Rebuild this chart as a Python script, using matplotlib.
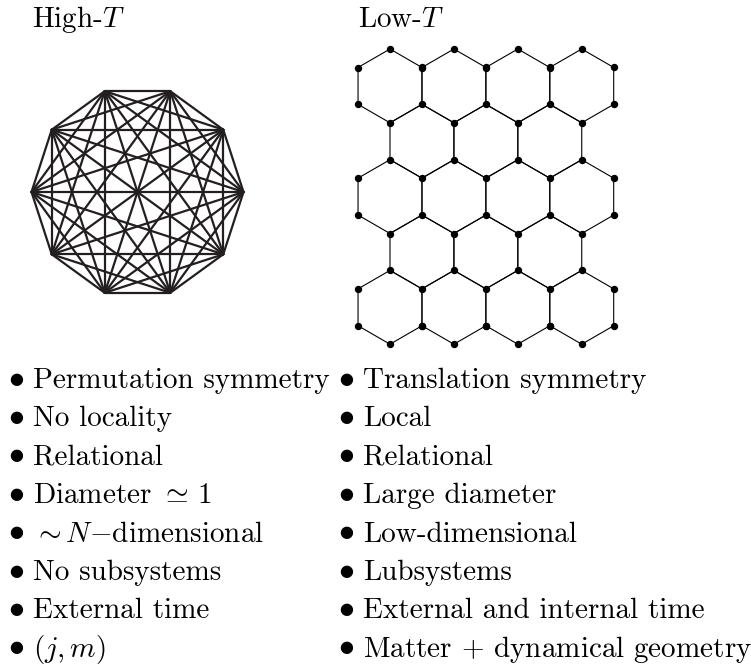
import numpy as np
import matplotlib
matplotlib.use('Agg')
import matplotlib.pyplot as plt

plt.rcParams['font.family'] = 'cmr10'
plt.rcParams['mathtext.fontset'] = 'cm'

# panel titles
titles = ['High-$T$', 'Low-$T$']

# bullet lists
left_items = ['Permutation symmetry', 'No locality', 'Relational',
              r'Diameter $\simeq\,1$', r'$\sim N{-}$dimensional',
              'No subsystems', 'External time', r'$(j,m)$']
right_items = ['Translation symmetry', 'Local', 'Relational',
               'Large diameter', 'Low-dimensional', 'Lubsystems',
               'External and internal time', r'Matter $+$ dynamical geometry']

# complete graph
n_nodes = 10
# honeycomb: hexagons per row (alternating 4 / 3)
hex_rows = [4, 3, 4, 3, 4]

fig = plt.figure(figsize=(7.51, 6.64), dpi=100)
ax = fig.add_axes([0, 0, 1, 1])
ax.set_xlim(0, 751)
ax.set_ylim(664, 0)
ax.axis('off')

# --- complete graph K10 ---
cx, cy, r = 137.5, 192, 106
ang = np.arange(n_nodes) * 2 * np.pi / n_nodes
px = cx + r * np.cos(ang)
py = cy - r * np.sin(ang)
for i in range(n_nodes):
    for j in range(i + 1, n_nodes):
        ax.plot([px[i], px[j]], [py[i], py[j]], color='#231f20', lw=1.6,
                solid_capstyle='round')

# --- honeycomb lattice ---
a = 36.9
dx = a * np.sqrt(3)
x0, ytop = 390, 49
verts = set()
for ri, nh in enumerate(hex_rows):
    yc = ytop + a + ri * 1.5 * a
    off = 0 if nh == 4 else dx / 2
    for k in range(nh):
        xc = x0 + off + k * dx
        th = np.deg2rad(90 + 60 * np.arange(7))
        hx = xc + a * np.cos(th)
        hy = yc - a * np.sin(th)
        ax.plot(hx, hy, color='black', lw=0.8)
        for u, v in zip(hx[:6], hy[:6]):
            verts.add((round(u, 1), round(v, 1)))
vx, vy = zip(*verts)
ax.plot(vx, vy, 'o', color='black', ms=4.3, lw=0)

# --- titles ---
fs = 21
ax.text(32, 27, titles[0], fontsize=fs, va='baseline')
ax.text(358, 27, titles[1], fontsize=fs, va='baseline')

# --- bullets ---
base, step = 388.0, 38.4
for col, items in [((8.5, 33), left_items), ((338.5, 362.7), right_items)]:
    for k, s in enumerate(items):
        y = base + k * step
        ax.text(col[0], y - 2.5, r'$\bullet$', fontsize=23, va='baseline')
        ax.text(col[1], y, s, fontsize=fs, va='baseline')

fig.savefig('out.png', dpi=100)
